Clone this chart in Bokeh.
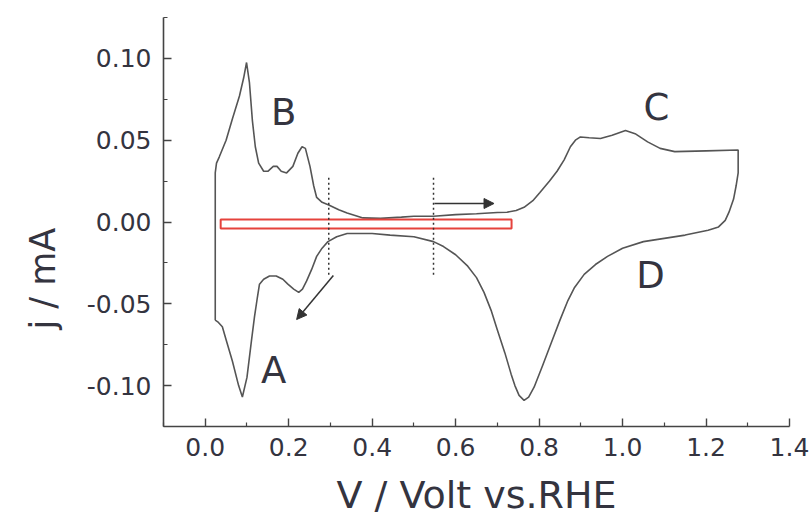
from bokeh.plotting import figure
from bokeh.models import (Range1d, FixedTicker, Label, Arrow, NormalHead,
                          NumeralTickFormatter, Title)
from bokeh.embed import file_html
from bokeh.resources import INLINE

# ---- data ----
# anodic (forward) scan: potential V vs RHE, current j / mA
fwd_v = [0.024, 0.024, 0.027, 0.034, 0.050, 0.065, 0.082, 0.092, 0.099, 0.106,
         0.113, 0.120, 0.128, 0.140, 0.150, 0.163, 0.172, 0.182, 0.195, 0.210,
         0.222, 0.232, 0.240, 0.251, 0.260, 0.267, 0.280, 0.296, 0.320, 0.340,
         0.378, 0.420, 0.470, 0.500, 0.547, 0.600, 0.650, 0.700, 0.723, 0.745,
         0.764, 0.785, 0.802, 0.825, 0.843, 0.860, 0.875, 0.887, 0.899, 0.920,
         0.947, 0.975, 1.007, 1.030, 1.060, 1.090, 1.125, 1.200, 1.277]
fwd_j = [-0.060, 0.030, 0.036, 0.040, 0.050, 0.063, 0.077, 0.088, 0.0975, 0.085,
         0.062, 0.046, 0.036, 0.031, 0.031, 0.034, 0.034, 0.031, 0.030, 0.034,
         0.042, 0.046, 0.045, 0.034, 0.022, 0.015, 0.012, 0.0104, 0.0075, 0.0055,
         0.0025, 0.0022, 0.0030, 0.0035, 0.0035, 0.0045, 0.0050, 0.0058, 0.0060, 0.0070,
         0.0090, 0.0130, 0.0180, 0.0250, 0.0310, 0.0380, 0.0460, 0.0500, 0.0520, 0.0515,
         0.0510, 0.0530, 0.0560, 0.0540, 0.0490, 0.0450, 0.0430, 0.0435, 0.0440]
# cathodic (reverse) scan
rev_v = [1.277, 1.272, 1.266, 1.255, 1.246, 1.230, 1.205, 1.150, 1.100, 1.050,
         1.000, 0.964, 0.935, 0.908, 0.885, 0.869, 0.850, 0.829, 0.808, 0.788,
         0.775, 0.764, 0.752, 0.742, 0.733, 0.718, 0.700, 0.685, 0.668, 0.650,
         0.629, 0.600, 0.571, 0.547, 0.500, 0.443, 0.400, 0.340, 0.315, 0.294,
         0.280, 0.267, 0.255, 0.243, 0.233, 0.224, 0.212, 0.198, 0.186, 0.170,
         0.154, 0.140, 0.130, 0.125, 0.118, 0.111, 0.100, 0.089, 0.080, 0.065,
         0.050, 0.041, 0.030, 0.024]
rev_j = [0.030, 0.022, 0.014, 0.006, 0.001, -0.003, -0.005, -0.008, -0.010, -0.012,
         -0.016, -0.021, -0.026, -0.032, -0.040, -0.048, -0.060, -0.074, -0.088, -0.101,
         -0.107, -0.109, -0.106, -0.100, -0.093, -0.080, -0.066, -0.054, -0.043, -0.034,
         -0.027, -0.020, -0.015, -0.012, -0.009, -0.008, -0.007, -0.007, -0.009, -0.012,
         -0.016, -0.021, -0.029, -0.036, -0.041, -0.043, -0.041, -0.038, -0.035, -0.033,
         -0.033, -0.035, -0.038, -0.046, -0.058, -0.072, -0.095, -0.107, -0.100, -0.085,
         -0.072, -0.064, -0.061, -0.060]

x_ticks = [0.0, 0.2, 0.4, 0.6, 0.8, 1.0, 1.2, 1.4]
x_minor = [-0.1, 0.1, 0.3, 0.5, 0.7, 0.9, 1.1, 1.3]
y_ticks = [-0.10, -0.05, 0.0, 0.05, 0.10]
y_minor = [-0.125, -0.075, -0.025, 0.025, 0.075, 0.125]

peak_names = ["A", "B", "C", "D"]
peak_x = [0.164, 0.188, 1.081, 1.067]
peak_y = [-0.091, 0.067, 0.070, -0.033]

marker_v = [0.296, 0.547]          # dotted potential markers
marker_top, marker_bottom = 0.027, -0.033
window_v = [0.037, 0.734]          # red window
window_j = [-0.004, 0.0015]

x_label = "V / Volt vs.RHE"
y_label = "j / mA"

TXT = "#34343f"
FONT = "DejaVu Sans"

p = figure(width=812, height=525, output_backend="svg", toolbar_location=None,
           x_range=Range1d(-0.1, 1.4), y_range=Range1d(-0.125, 0.125),
           min_border_left=163, min_border_right=23, min_border_top=17,
           min_border_bottom=99)
p.outline_line_color = None
p.grid.visible = False
p.background_fill_color = "white"

for ax in (p.xaxis[0], p.yaxis[0]):
    ax.axis_line_color = "#444444"
    ax.axis_line_width = 1.6
    ax.major_tick_line_color = "#444444"
    ax.minor_tick_line_color = "#444444"
    ax.major_tick_line_width = 1.4
    ax.minor_tick_line_width = 1.2
    ax.major_tick_in = 8
    ax.major_tick_out = 0
    ax.minor_tick_in = 4
    ax.minor_tick_out = 0
    ax.major_label_text_font = FONT
    ax.major_label_text_font_size = "25px"
    ax.major_label_text_color = TXT

p.xaxis[0].ticker = FixedTicker(ticks=x_ticks, minor_ticks=x_minor)
p.yaxis[0].ticker = FixedTicker(ticks=y_ticks, minor_ticks=y_minor)
p.xaxis[0].formatter = NumeralTickFormatter(format="0.0")
p.yaxis[0].formatter = NumeralTickFormatter(format="0.00")
p.xaxis[0].major_label_standoff = 11
p.yaxis[0].major_label_standoff = 12

p.xaxis[0].axis_label = x_label
p.xaxis[0].axis_label_text_font = FONT
p.xaxis[0].axis_label_text_font_size = "38px"
p.xaxis[0].axis_label_text_font_style = "normal"
p.xaxis[0].axis_label_text_color = TXT
p.xaxis[0].axis_label_standoff = 14

p.add_layout(Title(text=y_label, align="left", offset=97, standoff=38,
                   vertical_align="top",
                   text_font=FONT, text_font_size="35px", text_font_style="normal",
                   text_color=TXT), "left")

# CV loop
loop_v = fwd_v + rev_v
loop_j = fwd_j + rev_j
p.line(loop_v, loop_j, line_color="#555555", line_width=1.6)

# red window
p.quad(left=[window_v[0]], right=[window_v[1]], bottom=[window_j[0]], top=[window_j[1]],
       fill_alpha=0, line_color="#e5423c", line_width=2)

# dotted markers
p.segment(x0=marker_v, x1=marker_v, y0=[marker_top] * 2, y1=[marker_bottom] * 2,
          line_color="#333333", line_width=1.5, line_dash="2 3")

# arrows
p.add_layout(Arrow(x_start=0.307, y_start=-0.0327, x_end=0.219, y_end=-0.0596,
                   line_color="#333333", line_width=1.5,
                   end=NormalHead(size=10, fill_color="#333333", line_color="#333333")))
p.add_layout(Arrow(x_start=0.549, y_start=0.0113, x_end=0.692, y_end=0.0113,
                   line_color="#333333", line_width=1.5,
                   end=NormalHead(size=10, fill_color="#333333", line_color="#333333")))

# peak letters
for name, xx, yy in zip(peak_names, peak_x, peak_y):
    p.add_layout(Label(x=xx, y=yy, text=name, text_font=FONT, text_font_size="37px",
                       text_color=TXT, text_align="center", text_baseline="middle"))

open("out.html", "w").write(file_html(p, INLINE))
